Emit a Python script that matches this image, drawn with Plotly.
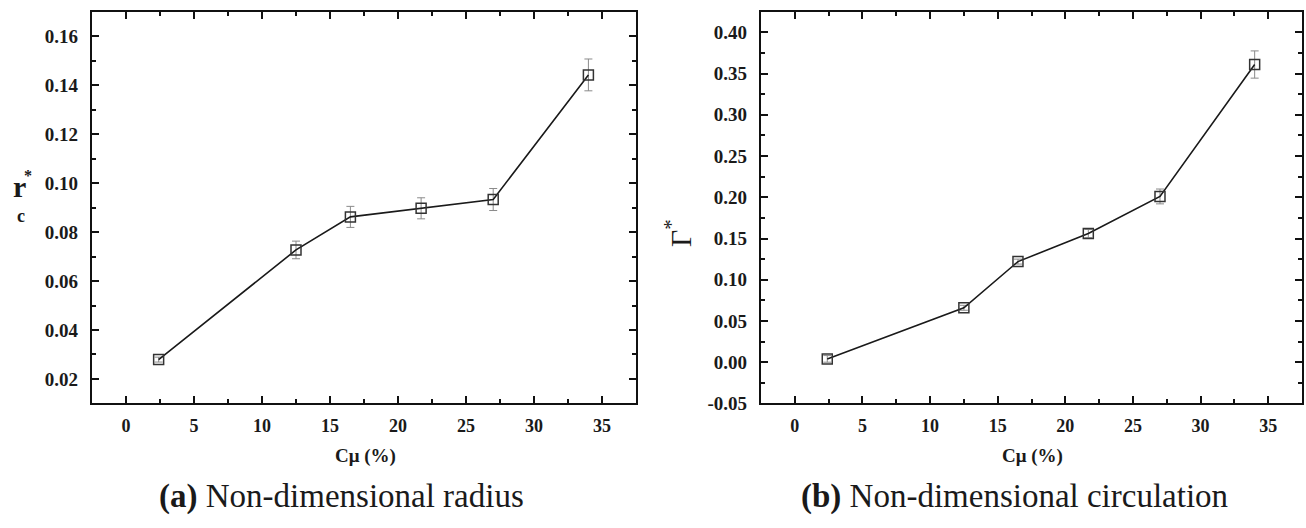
import plotly.graph_objects as go

# ---------------- data ----------------
cmu = [2.4, 12.5, 16.5, 21.7, 27.0, 34.0]

rc_vals = [0.0279, 0.0727, 0.0862, 0.0897, 0.0933, 0.1442]
rc_err = [0.0010, 0.0036, 0.0043, 0.0043, 0.0045, 0.0065]

gamma_vals = [0.004, 0.066, 0.122, 0.156, 0.201, 0.361]
gamma_err = [0.004, 0.003, 0.003, 0.005, 0.009, 0.0165]

x_ticks = [0, 5, 10, 15, 20, 25, 30, 35]
rc_ticks = [0.02, 0.04, 0.06, 0.08, 0.10, 0.12, 0.14, 0.16]
gamma_ticks = [-0.05, 0.00, 0.05, 0.10, 0.15, 0.20, 0.25, 0.30, 0.35, 0.40]

W, H = 1306, 528
def px(x):
    return x / W
def py(y):
    return 1 - y / H

FONT = "Liberation Serif"
TXT = "#1a1a1a"

fig = go.Figure()

common_trace = dict(
    mode="lines+markers",
    line=dict(color="#1a1a1a", width=1.6),
    marker=dict(symbol="square-open", size=10, color="#333333", line=dict(width=1.5)),
    showlegend=False,
)

fig.add_trace(go.Scatter(
    x=cmu, y=rc_vals, xaxis="x", yaxis="y",
    error_y=dict(type="data", array=rc_err, visible=True, color="#8a8a8a", thickness=1, width=4),
    **common_trace))
fig.add_trace(go.Scatter(
    x=cmu, y=gamma_vals, xaxis="x2", yaxis="y2",
    error_y=dict(type="data", array=gamma_err, visible=True, color="#8a8a8a", thickness=1, width=4),
    **common_trace))

xtickfont = dict(family=FONT, size=18, color=TXT, weight="bold")
ytickfont = dict(family=FONT, size=19, color=TXT, weight="bold")

def xaxis_cfg(domain, anchor):
    return dict(
        domain=domain, anchor=anchor, range=[-2.5, 37.5],
        tickvals=x_ticks, ticktext=[str(v) for v in x_ticks],
        ticks="inside", ticklen=7, tickwidth=2, tickcolor="#111",
        showline=True, linewidth=2.2, linecolor="#111", mirror="ticks",
        showgrid=False, zeroline=False, tickfont=xtickfont,
        minor=dict(ticks="inside", ticklen=4, tickwidth=2, tickcolor="#111", dtick=2.5, tick0=0, showgrid=False),
        ticklabelstandoff=5,
    )

def yaxis_cfg(domain, anchor, rng, tv, mdt):
    return dict(
        domain=domain, anchor=anchor, range=rng,
        tickvals=tv, ticktext=[f"{v:.2f}" for v in tv],
        ticks="inside", ticklen=7, tickwidth=2, tickcolor="#111",
        showline=True, linewidth=2.2, linecolor="#111", mirror="ticks",
        showgrid=False, zeroline=False, tickfont=ytickfont,
        minor=dict(ticks="inside", ticklen=4, tickwidth=2, tickcolor="#111", dtick=mdt, tick0=0, showgrid=False),
        ticklabelstandoff=8,
    )

ydom = [py(412), py(12)]
fig.update_layout(
    width=W, height=H,
    margin=dict(l=0, r=0, t=0, b=0),
    paper_bgcolor="white", plot_bgcolor="white",
    xaxis=xaxis_cfg([px(92), px(636)], "y"),
    yaxis=yaxis_cfg(ydom, "x", [0.01, 0.17], rc_ticks, 0.01),
    xaxis2=xaxis_cfg([px(761), px(1302)], "y2"),
    yaxis2=yaxis_cfg(ydom, "x2", [-0.05, 0.425], gamma_ticks, 0.025),
)

ann = []
# x axis titles
for cx in (365, 1032):
    ann.append(dict(x=px(cx), y=py(466), xref="paper", yref="paper", showarrow=False,
                    text="<b>Cμ (%)</b>", font=dict(family=FONT, size=19, color=TXT),
                    xanchor="center", yanchor="middle"))
# captions
ann.append(dict(x=px(157), y=py(507), xref="paper", yref="paper", showarrow=False,
                text="<b>(a)</b> Non-dimensional radius", font=dict(family=FONT, size=33, color=TXT),
                xanchor="left", yanchor="middle"))
ann.append(dict(x=px(799), y=py(507), xref="paper", yref="paper", showarrow=False,
                text="<b>(b)</b> Non-dimensional circulation", font=dict(family=FONT, size=33, color=TXT),
                xanchor="left", yanchor="middle"))
# left y title r*_c
ann.append(dict(x=px(19), y=py(190), xref="paper", yref="paper", showarrow=False,
                text="<b>r</b>", font=dict(family=FONT, size=30, color=TXT),
                xanchor="center", yanchor="middle"))
ann.append(dict(x=px(28), y=py(179), xref="paper", yref="paper", showarrow=False,
                text="<b>*</b>", font=dict(family=FONT, size=16, color=TXT),
                xanchor="center", yanchor="middle"))
ann.append(dict(x=px(21), y=py(221), xref="paper", yref="paper", showarrow=False,
                text="<b>c</b>", font=dict(family=FONT, size=18, color=TXT),
                xanchor="center", yanchor="middle"))
# right y title Γ*
ann.append(dict(x=px(678), y=py(238), xref="paper", yref="paper", showarrow=False,
                text="Γ<sup>*</sup>", font=dict(family=FONT, size=30, color=TXT),
                textangle=-90, xanchor="center", yanchor="middle"))
fig.update_layout(annotations=ann)

fig.write_html("out.html")
